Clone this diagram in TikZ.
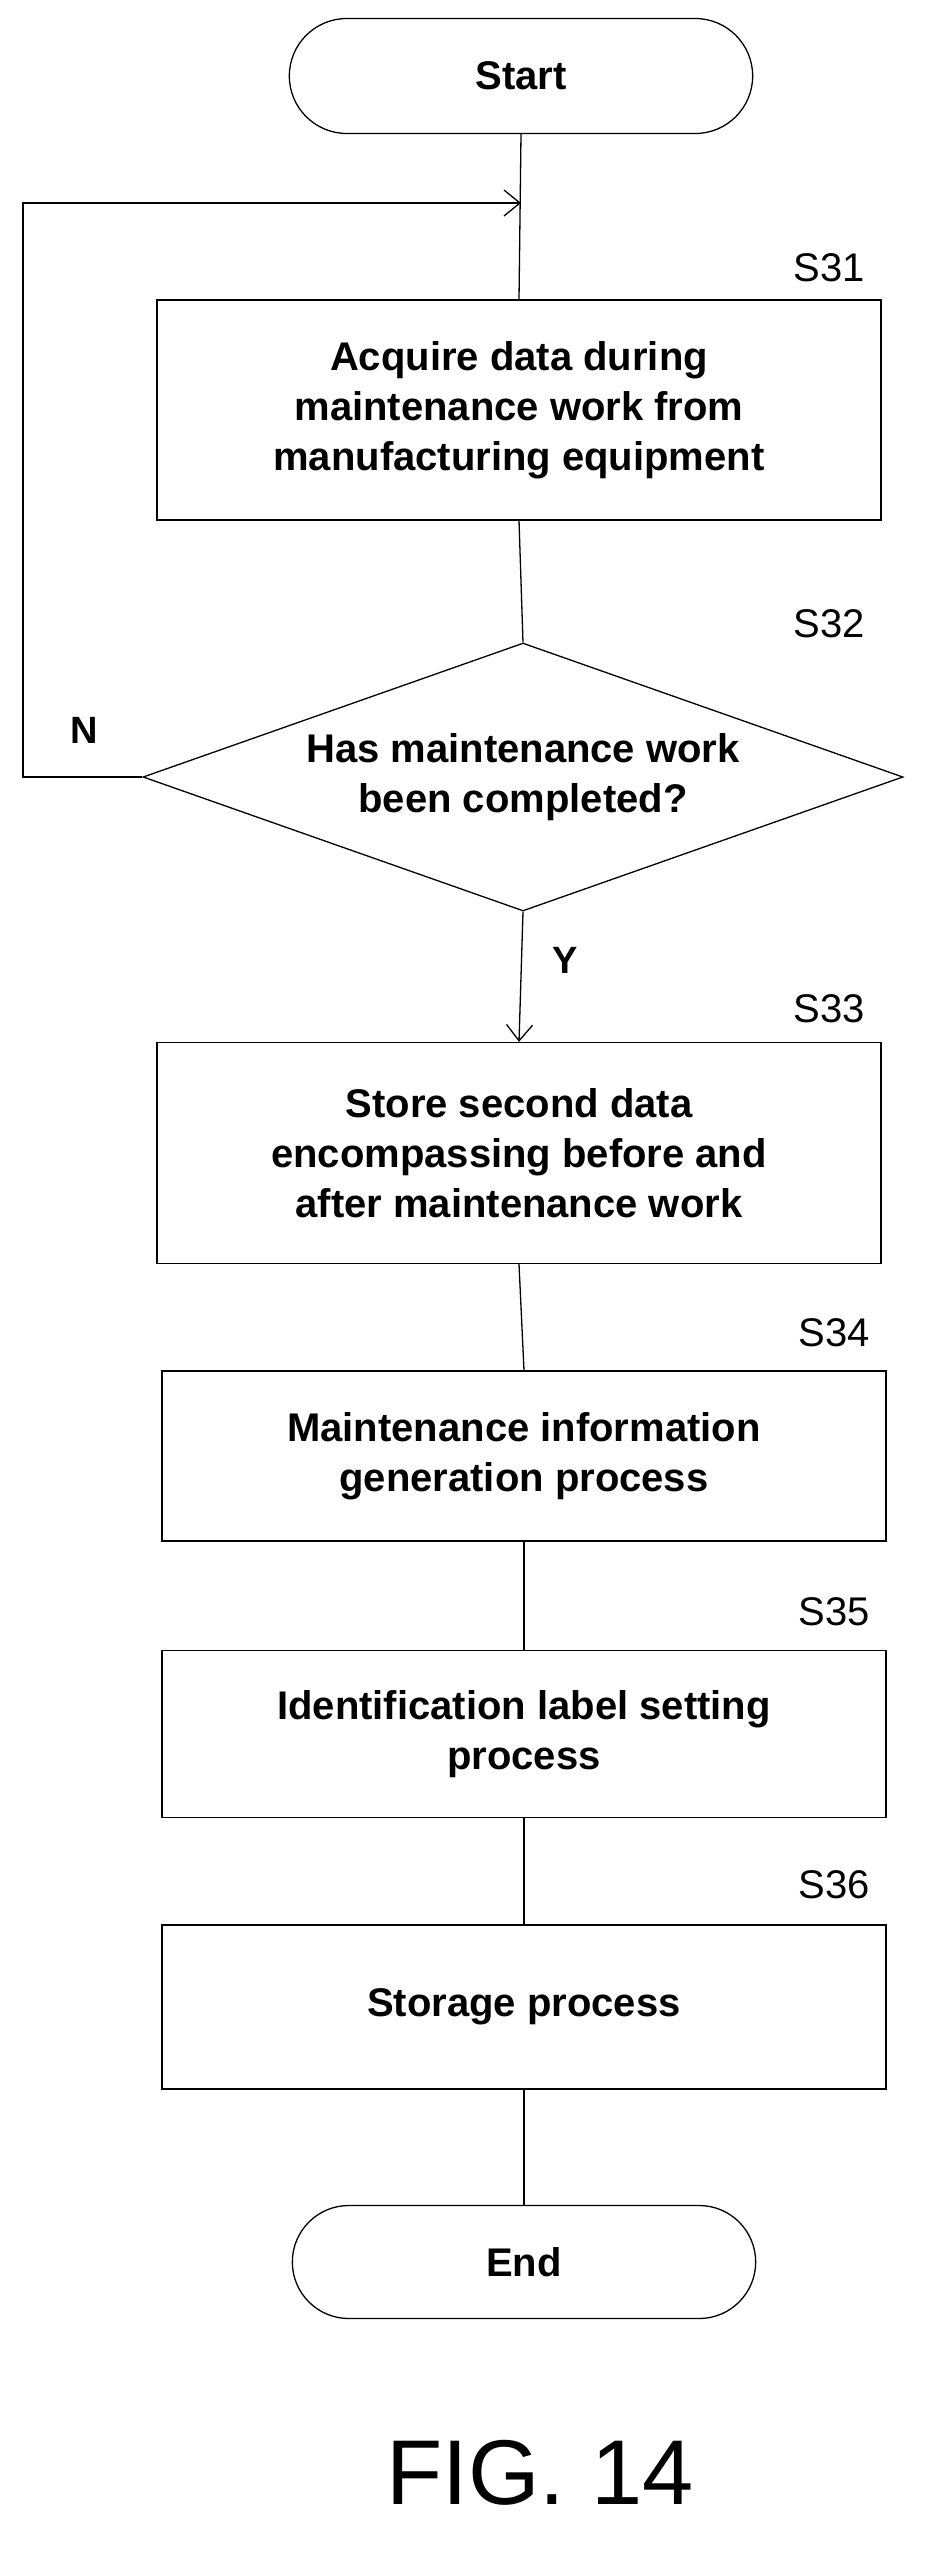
\documentclass[tikz,border=0pt]{standalone}
\usepackage{fontspec}
\setmainfont{Liberation Sans}
\usetikzlibrary{shapes.geometric,shapes.misc,arrows.meta}
\begin{document}
\begin{tikzpicture}[x=1pt,y=-1pt,
  line/.style={line width=1.3pt},
  box/.style={draw,line width=1.3pt,minimum width=724pt,align=center,font=\fontsize{40}{50}\selectfont\bfseries},
  term/.style={draw,line width=1.3pt,rounded rectangle,minimum width=470pt,font=\fontsize{40}{48}\selectfont\bfseries},
  steplbl/.style={font=\fontsize{40}{48}\selectfont,anchor=center},
  lbl/.style={font=\fontsize{38}{46}\selectfont\bfseries}]
\useasboundingbox (0,0) rectangle (941,2567);
\node[term,minimum height=115pt] (start) at (521,76) {Start};
\node[box,minimum height=220pt] (s31) at (519,410) {Acquire data during\\maintenance work from\\manufacturing equipment};
\node[draw,line width=1.3pt,diamond,aspect=2.9,minimum width=760pt,minimum height=268pt,inner sep=0pt,align=center,font=\fontsize{40}{50}\selectfont\bfseries] (s32) at (523,777) {Has maintenance work\\been completed?};
\node[box,minimum height=221pt] (s33) at (519,1153) {Store second data\\encompassing before and\\after maintenance work};
\node[box,minimum height=170pt] (s34) at (524,1456) {Maintenance information\\generation process};
\node[box,minimum height=167pt] (s35) at (524,1734) {Identification label setting\\process};
\node[box,minimum height=164pt] (s36) at (524,2007) {Storage process};
\node[term,minimum height=113pt] (end) at (524,2262) {End};
\node[steplbl] at (829,268) {S31};
\node[steplbl] at (829,624) {S32};
\node[steplbl] at (829,1009) {S33};
\node[steplbl] at (834,1333) {S34};
\node[steplbl] at (834,1612) {S35};
\node[steplbl] at (834,1885) {S36};
\node[lbl] (n) at (84,730) {N};
\node[lbl] (y) at (565,960) {Y};
\node[font=\fontsize{92}{100}\selectfont] (fig) at (540,2473) {FIG. 14};
\coordinate (j) at (start.south |- 0,203);
\draw[line] (start.south) -- (s31.north);
\draw[line] (s31.south) -- (s32.north);
\draw[line,-{Straight Barb[length=16pt,width=26pt]}] (s32.south) -- (s33.north);
\draw[line] (s33.south) -- (s34.north);
\draw[line] (s34.south) -- (s35.north);
\draw[line] (s35.south) -- (s36.north);
\draw[line] (s36.south) -- (end.north);
\draw[line,-{Straight Barb[length=16pt,width=26pt]}] (s32.west) -| (23,203) -- (j);
\end{tikzpicture}
\end{document}
